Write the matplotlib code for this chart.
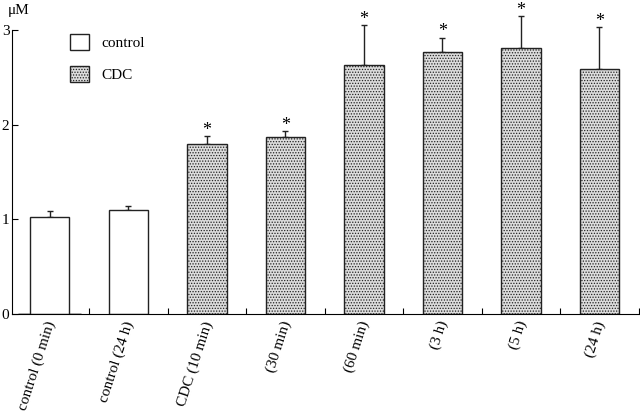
import matplotlib.pyplot as plt

# --- datos ---
etiquetas = ["control (0 min)", "control (24 h)", "CDC (10 min)", "(30 min)",
             "(60 min)", "(3 h)", "(5 h)", "(24 h)"]
valores = [1.02, 1.10, 1.80, 1.87, 2.63, 2.77, 2.81, 2.59]
errores = [0.07, 0.04, 0.08, 0.06, 0.42, 0.15, 0.34, 0.44]
grupo = ["control", "control", "CDC", "CDC", "CDC", "CDC", "CDC", "CDC"]
signif = [False, False, True, True, True, True, True, True]

plt.rcParams['font.family'] = ['Liberation Serif', 'DejaVu Serif']
plt.rcParams['hatch.color'] = '#8a8a8a'
plt.rcParams['hatch.linewidth'] = 0.6

fig = plt.figure(figsize=(6.4, 4.13), dpi=100)
ax = fig.add_axes([0.019, 0.24, 0.979, 0.756])

x = list(range(len(valores)))
for i in x:
    if grupo[i] == "control":
        ax.bar(i, valores[i], width=0.5, facecolor='white', edgecolor='#222222',
               linewidth=1.0, zorder=2)
    else:
        ax.bar(i, valores[i], width=0.5, facecolor='#dcdcdc', edgecolor='#222222',
               linewidth=1.0, hatch='......', zorder=2)
    ax.errorbar(i, valores[i], yerr=[[0], [errores[i]]], fmt='none',
                ecolor='#222222', elinewidth=1.0, capsize=2, capthick=1.0, zorder=1)
    if signif[i]:
        ax.text(i, valores[i] + errores[i] - 0.03, "*", ha='center', va='bottom',
                fontsize=13, clip_on=False)

# leyenda
ax.bar(0, 0, facecolor='white', edgecolor='#222222', label="control")
ax.bar(0, 0, facecolor='#dcdcdc', edgecolor='#222222', hatch='......', label="CDC")
ax.legend(loc='upper left', bbox_to_anchor=(0.07, 0.94), frameon=False,
          fontsize=11, handlelength=1.25, handleheight=1.25, labelspacing=1.0,
          handletextpad=0.8)

ax.set_xlim(-0.48, 7.5)
ax.set_ylim(0, 3.3)
ax.set_yticks([0, 1, 2, 3])
ax.set_yticklabels(["0", "1", "2", "3"], fontsize=11)
ax.set_xticks([i + 0.5 for i in x])
ax.set_xticklabels([])
ax.tick_params(axis='both', direction='in', length=4, width=0.8, pad=2)
ax.spines['top'].set_visible(False)
ax.spines['right'].set_visible(False)
ax.spines['left'].set_bounds(0, 3)

for i in x:
    ax.text(i + 0.02, -0.08, etiquetas[i], rotation=72, rotation_mode='anchor',
            ha='right', va='center', fontsize=11)

fig.text(0.012, 0.975, "μM", fontsize=11, va='center', ha='left')

fig.savefig("out.png", dpi=100)
